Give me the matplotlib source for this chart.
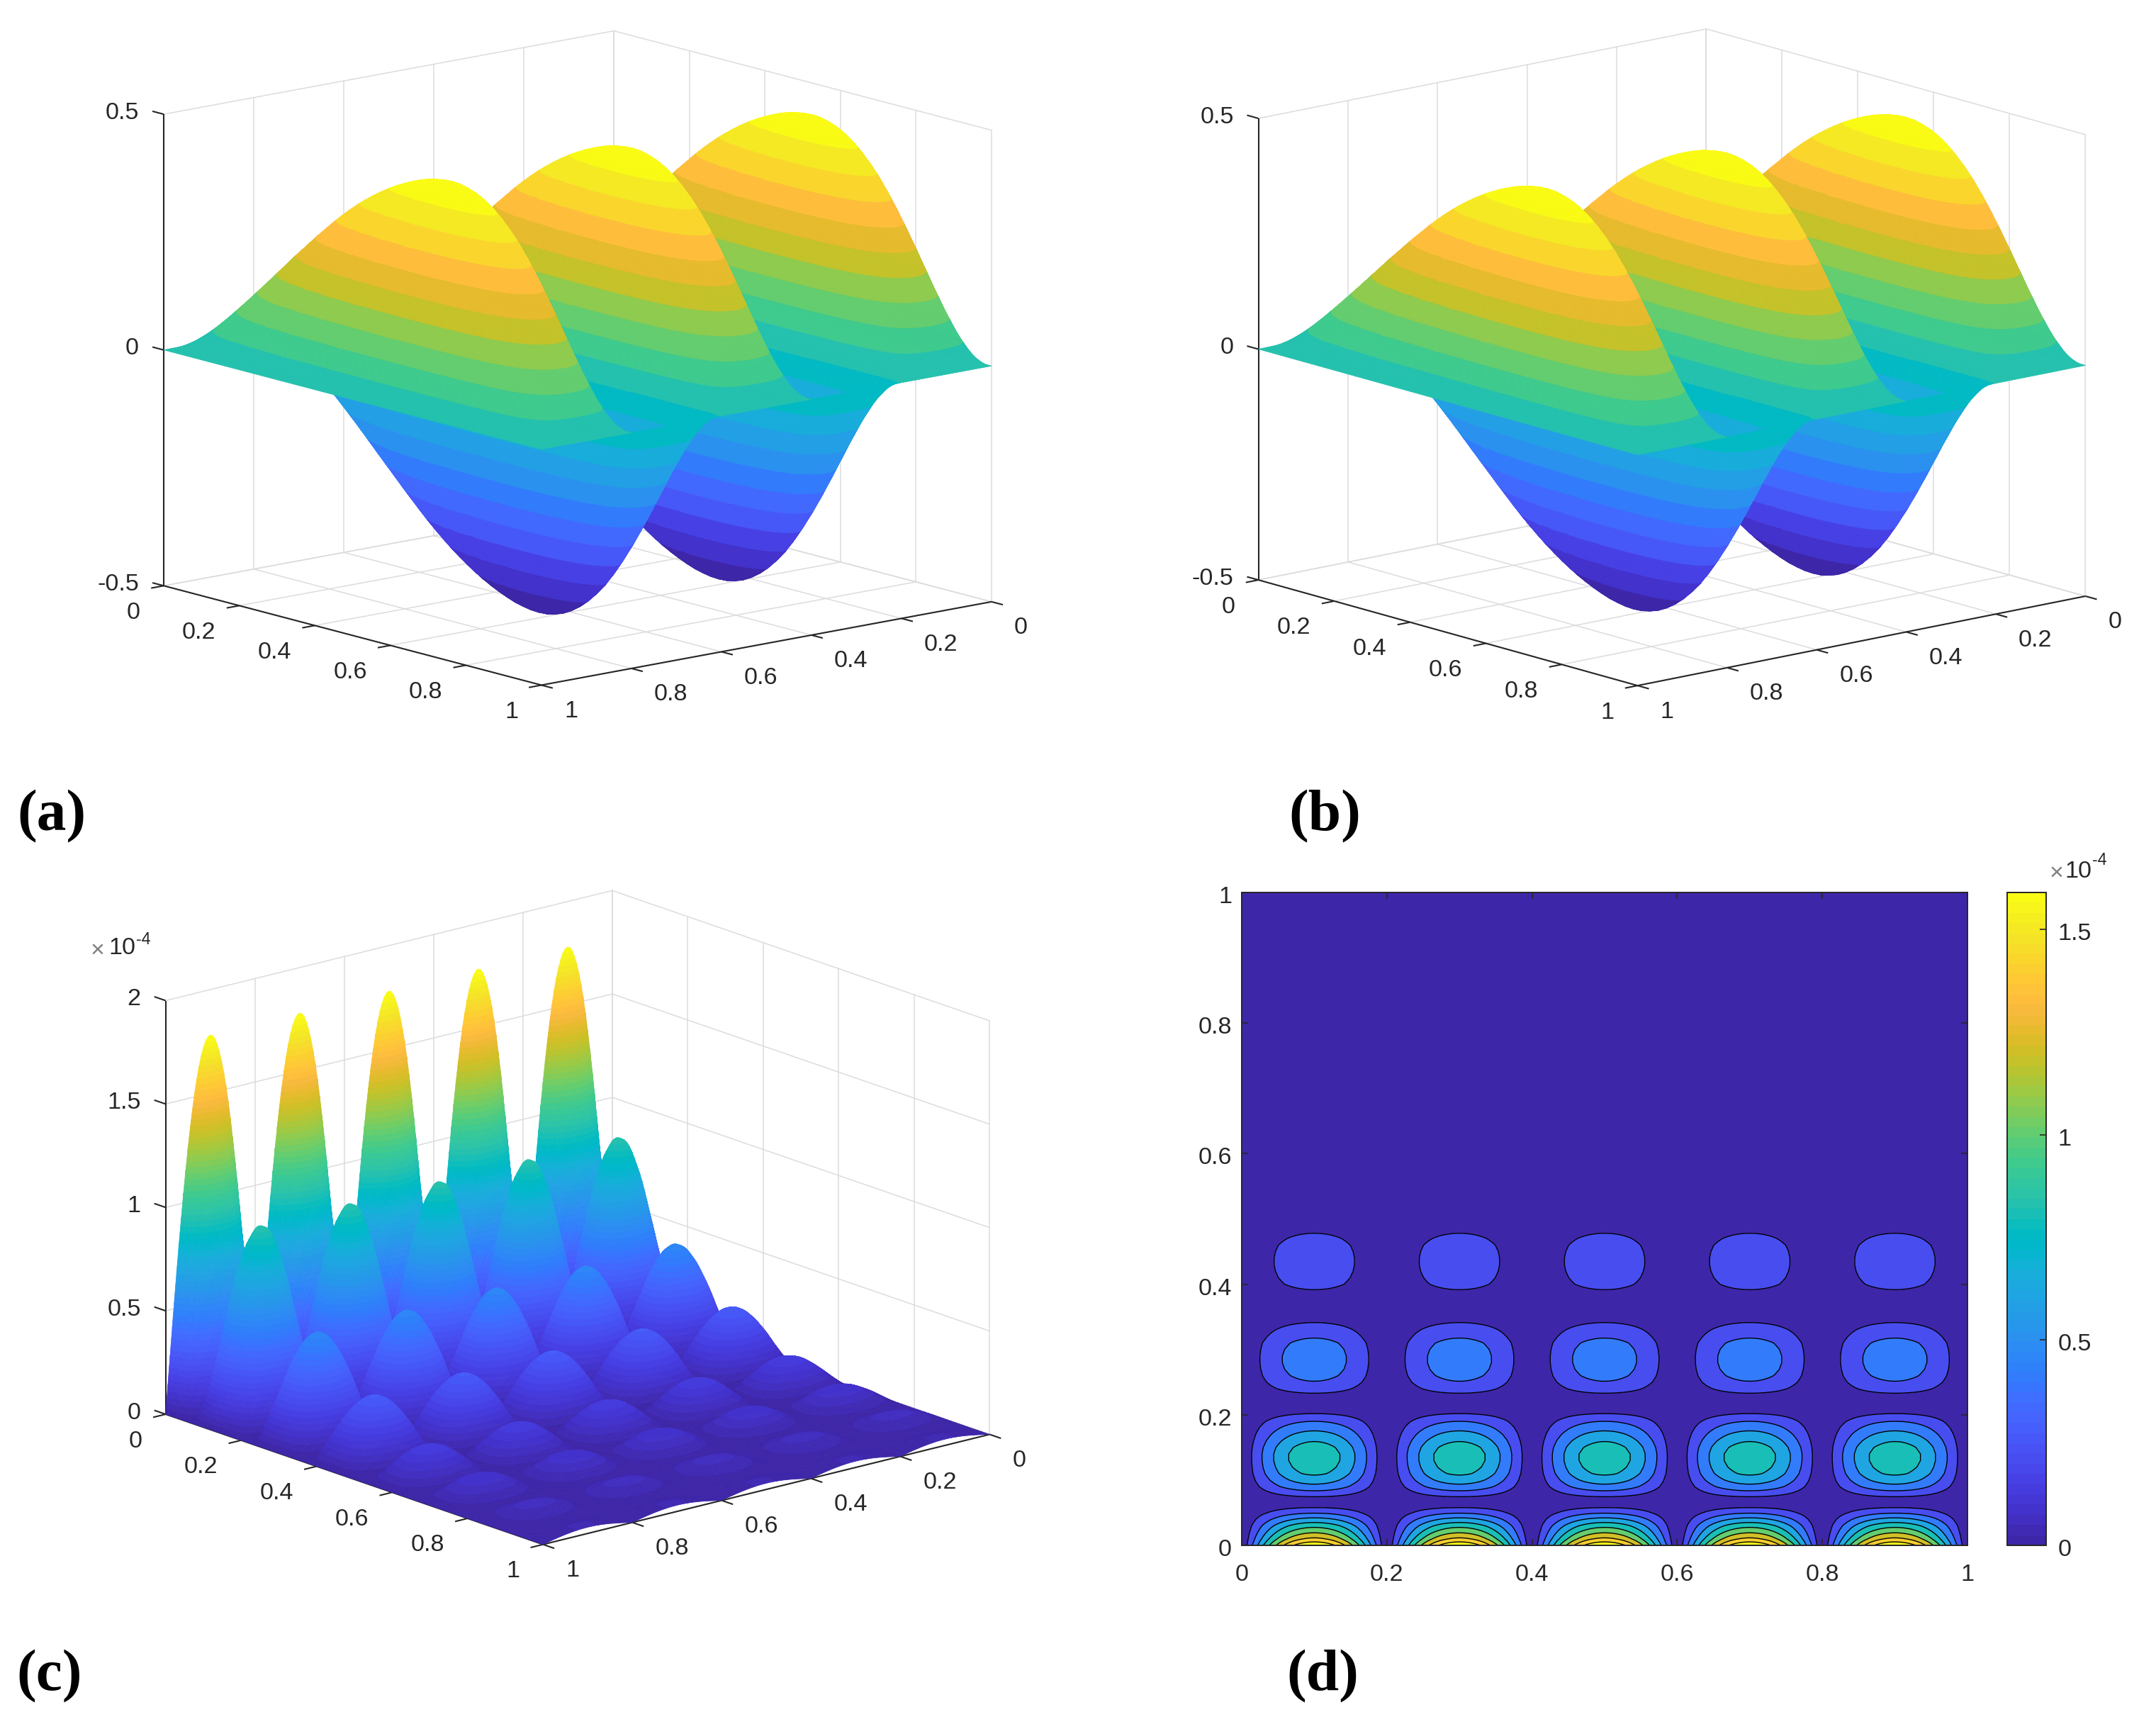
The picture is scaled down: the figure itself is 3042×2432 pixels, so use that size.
import numpy as np
import matplotlib
matplotlib.use("Agg")
import matplotlib.pyplot as plt
from matplotlib.colors import ListedColormap, Normalize
from matplotlib.cm import ScalarMappable
from matplotlib.transforms import ScaledTranslation
from mpl_toolkits.mplot3d import proj3d
from mpl_toolkits.mplot3d.art3d import Poly3DCollection

plt.rcParams['font.family'] = ['Liberation Sans', 'DejaVu Sans']

FW, FH = 3042, 2432
DPI = 200
INK = '#262626'
GRID = '#dcdcdc'
FS = 12.3

# ---- data ----
# one quarter wave of the x-lobe, x = 0 .. 0.1, step 0.005
lobe_quarter = [0, .078, .156, .233, .309, .383, .454, .522, .588, .649, .707,
                .760, .809, .853, .891, .924, .951, .972, .988, .997, 1]
lobe_signs = [1, -1, 1, -1, 1]

# y profile of panels a, b; y = 0 .. 1, step 0.02
profile_a = [0, .018, .037, .056, .076, .096, .116, .136, .156, .176, .196, .216, .236,
             .255, .274, .293, .311, .329, .346, .362, .377, .391, .404, .416, .427,
             .437, .446, .454, .461, .467, .471, .474, .475, .474, .470, .464, .455,
             .443, .428, .410, .389, .364, .336, .305, .271, .234, .194, .151, .105, .055, 0]
scale_a = 1.0
scale_b = 1.0

# y profile of panels c, d (units of 1e-4); y = 0 .. 1, step 0.01
profile_c = [1.78, 1.44, 1.18, .94, .66, .38, .15, .10, .32, .54,
             .70, .83, .90, .94, .94, .89, .79, .67, .54, .40,
             .23, .06, .04, .16, .29, .39, .46, .50, .52, .52,
             .50, .46, .38, .30, .21, .13, .04, .03, .09, .19,
             .25, .28, .30, .31, .31, .30, .28, .24, .19, .13,
             .07, .03, .02, .06, .10, .13, .15, .16, .165, .16,
             .15, .13, .10, .07, .04, .02, .03, .05, .07, .09,
             .10, .11, .11, .11, .10, .08, .06, .04, .03, .015,
             .02, .03, .04, .05, .06, .07, .07, .07, .06, .05,
             .04, .03, .02, .01, .015, .02, .025, .03, .03, .03, .03]

axis_ticks = [0, .2, .4, .6, .8, 1]
axis_labels = ['0', '0.2', '0.4', '0.6', '0.8', '1']
z_ticks_ab = [-.5, 0, .5]
z_labels_ab = ['-0.5', '0', '0.5']
z_ticks_c = [0, .5, 1, 1.5, 2]
z_labels_c = ['0', '0.5', '1', '1.5', '2']
contour_levels = [0, .2, .4, .6, .8, 1.0, 1.2, 1.4, 1.6, 1.8]
cbar_ticks = [0, .5, 1, 1.5]
cbar_labels = ['0', '0.5', '1', '1.5']
cbar_max = 1.59

parula_table = [
 (.2422,.1504,.6603),(.2504,.1650,.7076),(.2578,.1818,.7511),(.2647,.1978,.7952),
 (.2706,.2147,.8364),(.2751,.2342,.8710),(.2783,.2559,.8991),(.2803,.2782,.9221),
 (.2813,.3006,.9414),(.2810,.3228,.9579),(.2795,.3447,.9717),(.2760,.3667,.9829),
 (.2699,.3892,.9906),(.2602,.4123,.9952),(.2440,.4358,.9988),(.2206,.4603,.9973),
 (.1963,.4847,.9892),(.1834,.5074,.9798),(.1786,.5289,.9682),(.1764,.5499,.9520),
 (.1687,.5703,.9359),(.1540,.5902,.9218),(.1460,.6091,.9079),(.1380,.6276,.8973),
 (.1248,.6459,.8883),(.1113,.6635,.8763),(.0952,.6798,.8598),(.0689,.6948,.8394),
 (.0297,.7082,.8163),(.0036,.7203,.7917),(.0067,.7312,.7660),(.0433,.7411,.7394),
 (.0964,.7500,.7120),(.1408,.7584,.6842),(.1717,.7670,.6554),(.1938,.7758,.6251),
 (.2161,.7843,.5923),(.2470,.7918,.5567),(.2906,.7973,.5188),(.3406,.8008,.4789),
 (.3909,.8029,.4354),(.4456,.8024,.3909),(.5044,.7993,.3480),(.5616,.7942,.3045),
 (.6174,.7876,.2612),(.6720,.7793,.2227),(.7242,.7698,.1910),(.7738,.7598,.1646),
 (.8203,.7498,.1535),(.8634,.7406,.1596),(.9035,.7330,.1774),(.9393,.7288,.2100),
 (.9728,.7298,.2394),(.9956,.7434,.2371),(.9970,.7659,.2199),(.9952,.7893,.2028),
 (.9892,.8136,.1885),(.9786,.8386,.1766),(.9676,.8639,.1643),(.9610,.8890,.1537),
 (.9597,.9135,.1423),(.9628,.9373,.1265),(.9691,.9606,.1064),(.9769,.9839,.0805)]
parula = ListedColormap(parula_table, name='parula')

# ---- surfaces built from the profiles ----
half = np.array(lobe_quarter)
one_lobe = np.concatenate([half, half[-2::-1]])
x_profile = [one_lobe] + [s * one_lobe[1:] for s in lobe_signs[1:]]
x_profile = np.concatenate(x_profile)
x_grid = np.linspace(0, 1, len(x_profile))
y_ab = np.linspace(0, 1, len(profile_a))
y_c = np.linspace(0, 1, len(profile_c))

Z_ab = np.outer(np.array(profile_a), x_profile)                # rows = y, cols = x
Z_c = np.outer(np.array(profile_c), np.abs(x_profile))

fig = plt.figure(figsize=(FW / DPI, FH / DPI), dpi=DPI, facecolor='white')


def clip_band(poly, lo, hi):
    """Part of a 3D polygon with lo <= z <= hi."""
    for bound, sign in ((lo, 1.0), (hi, -1.0)):
        out = []
        n = len(poly)
        for i in range(n):
            p, q = poly[i], poly[(i + 1) % n]
            dp, dq = sign * (p[2] - bound), sign * (q[2] - bound)
            if dp >= 0:
                out.append(p)
            if dp * dq < 0:
                t = dp / (dp - dq)
                out.append((p[0] + t * (q[0] - p[0]), p[1] + t * (q[1] - p[1]),
                            p[2] + t * (q[2] - p[2])))
        poly = out
        if len(poly) < 3:
            return []
    return poly


def banded_polys(xs, ys, Z, lo, hi, n):
    """Cut the surface along equal z steps; each piece takes one colormap colour."""
    step = (hi - lo) / n
    polys, idx = [], []
    band = np.clip(np.floor((Z - lo) / step).astype(int), 0, n - 1)
    for j in range(len(ys) - 1):
        for i in range(len(xs) - 1):
            b = (band[j, i], band[j, i + 1], band[j + 1, i], band[j + 1, i + 1])
            a = (xs[i], ys[j], Z[j, i])
            c = (xs[i + 1], ys[j], Z[j, i + 1])
            d = (xs[i + 1], ys[j + 1], Z[j + 1, i + 1])
            e = (xs[i], ys[j + 1], Z[j + 1, i])
            if min(b) == max(b):
                polys.append([a, c, d, e])
                idx.append(b[0])
                continue
            for tri in ((a, c, d), (a, d, e)):
                zs = (tri[0][2], tri[1][2], tri[2][2])
                b0 = max(int(np.floor((min(zs) - lo) / step)), 0)
                b1 = min(int(np.floor((max(zs) - lo) / step)), n - 1)
                for k in range(b0, b1 + 1):
                    l = lo + k * step if k > 0 else -1e9
                    h = lo + (k + 1) * step if k < n - 1 else 1e9
                    piece = clip_band(list(tri), l, h)
                    if piece:
                        polys.append(piece)
                        idx.append(k)
    return polys, parula(np.array(idx) / (n - 1))


def panel3d(centre, side_px, height_px, elev, azim, zlim, zticks, zlabels, xs, ys, Z, lo, hi, n):
    aspect = np.array([1, 1, height_px / side_px])
    box = 1.8294640721620434 * 25 / 24 / np.linalg.norm(aspect)
    W = side_px * 0.185 / (box * 0.1)
    left = centre[0] - W * 0.095 / 0.185
    bottom = centre[1] + W * 0.095 / 0.185
    ax = fig.add_axes([left / FW, (FH - bottom) / FH, W / FW, W / FH],
                      projection='3d', proj_type='ortho', computed_zorder=False)
    ax.set_box_aspect(tuple(aspect))
    ax.view_init(elev=elev, azim=azim)
    ax.set_xlim(0, 1, view_margin=0)
    ax.set_ylim(0, 1, view_margin=0)
    ax.set_zlim(zlim[0], zlim[1], view_margin=0)
    ax.set_axis_off()
    ax.patch.set_alpha(0)
    z0, z1 = zlim
    g = dict(color=GRID, lw=0.55, zorder=1)
    for v in axis_ticks:
        ax.plot([v, v], [0, 0], [z0, z1], **g)       # wall y = 0
        ax.plot([0, 0], [v, v], [z0, z1], **g)       # wall x = 0
        ax.plot([v, v], [0, 1], [z0, z0], **g)       # floor
        ax.plot([0, 1], [v, v], [z0, z0], **g)       # floor
    for v in zticks:
        ax.plot([0, 1], [0, 0], [v, v], **g)
        ax.plot([0, 0], [0, 1], [v, v], **g)
    a = dict(color=INK, lw=0.75, zorder=1.5, solid_capstyle='butt')
    ax.plot([1, 1], [0, 0], [z0, z1], **a)
    ax.plot([1, 1], [0, 1], [z0, z0], **a)
    ax.plot([0, 1], [1, 1], [z0, z0], **a)
    for v in axis_ticks:
        ax.plot([1, 1.028], [v, v], [z0, z0], **a)
        ax.plot([v, v], [1, 1.03], [z0, z0], **a)
    for v in zticks:
        ax.plot([1, 1], [0, -.03], [v, v], **a)
    polys, cols = banded_polys(xs, ys, Z, lo, hi, n)
    coll = Poly3DCollection(polys, facecolors=cols, edgecolors=cols, linewidths=0.25,
                            zsort='average', zorder=2)
    ax.add_collection3d(coll, autolim=False)
    M = ax.get_proj()

    def label(s, x, y, z, dx, dy, ha):
        tx, ty, _ = proj3d.proj_transform(x, y, z, M)
        ax.annotate(s, xy=(tx, ty), xycoords='data', xytext=(dx, -dy),
                    textcoords='offset pixels', ha=ha, va='center', fontsize=FS,
                    color=INK, annotation_clip=False)
    for v, s in zip(axis_ticks, axis_labels):
        label(s, 1, v, z0, -33, 38, 'right')
        label(s, v, 1, z0, 32, 37, 'left')
    for v, s in zip(zticks, zlabels):
        label(s, 1, 0, v, -35, -2, 'right')
    return ax


panel3d((815, 505), 829, 682, 12.75, 50, (-.5, .5), z_ticks_ab, z_labels_ab,
        x_grid, y_ab, scale_a * Z_ab, -.475, .475, 20)
panel3d((2359, 504), 828, 670, 13.64, 49.75, (-.5, .5), z_ticks_ab, z_labels_ab,
        x_grid, y_ab, scale_b * Z_ab, -.475, .475, 20)
panel3d((815, 1717.5), 825, 610, 16.95, 49.8, (0, 2), z_ticks_c, z_labels_c,
        x_grid, y_c, Z_c, 0, 1.78, 64)

# ---- panel d ----
ax = fig.add_axes([1752 / FW, (FH - 2180) / FH, 1024 / FW, 921 / FH])
band_colors = [parula(min(l / cbar_max, 1.0)) for l in contour_levels[:-1]]
ax.contourf(x_grid, y_c, Z_c, levels=contour_levels, colors=band_colors)
ax.contour(x_grid, y_c, Z_c, levels=contour_levels[1:-1], colors='k', linewidths=0.5)
ax.set_xlim(0, 1)
ax.set_ylim(0, 1)
ax.set_xticks(axis_ticks, axis_labels)
ax.set_yticks(axis_ticks, axis_labels)
ax.tick_params(direction='in', top=True, right=True, length=3.3, width=0.6, color=INK,
               labelsize=FS, labelcolor=INK)
ax.tick_params(axis='x', pad=9.5)
ax.tick_params(axis='y', pad=5)
for s in ax.spines.values():
    s.set_color(INK)
    s.set_linewidth(0.7)
shift_down = ScaledTranslation(0, -3 / DPI, fig.dpi_scale_trans)
for t in ax.get_yticklabels():
    t.set_transform(t.get_transform() + shift_down)

cax = fig.add_axes([2832 / FW, (FH - 2180) / FH, 55 / FW, 921 / FH])
cb = fig.colorbar(ScalarMappable(Normalize(0, cbar_max), parula), cax=cax)
cb.set_ticks(cbar_ticks, labels=cbar_labels)
cax.tick_params(direction='in', length=3.3, width=0.6, color=INK, labelsize=FS,
                labelcolor=INK, pad=6)
for t in cax.get_yticklabels():
    t.set_transform(t.get_transform() + shift_down)
cb.outline.set_edgecolor(INK)
cb.outline.set_linewidth(0.7)


def ftext(x, y, s, **kw):
    kw.setdefault('va', 'center')
    kw.setdefault('ha', 'center')
    kw.setdefault('color', INK)
    fig.text(x / FW, 1 - y / FH, s, **kw)


# exponents
ftext(138, 1341, '\u00d7', fontsize=FS, color='#808080')
ftext(172, 1338, '10', fontsize=FS)
ftext(202, 1325, '-4', fontsize=8.4)
ftext(2902, 1232, '\u00d7', fontsize=FS, color='#808080')
ftext(2932, 1229, '10', fontsize=FS)
ftext(2962, 1214, '-4', fontsize=8.4)

# panel letters
bold = dict(family=['Liberation Serif'], fontweight='bold', fontsize=30, color='black')
ftext(73, 1152, '(a)', **bold)
ftext(1869, 1152, '(b)', **bold)
ftext(70, 2365, '(c)', **bold)
ftext(1866, 2365, '(d)', **bold)

fig.savefig('out.png', dpi=DPI, facecolor='white')
